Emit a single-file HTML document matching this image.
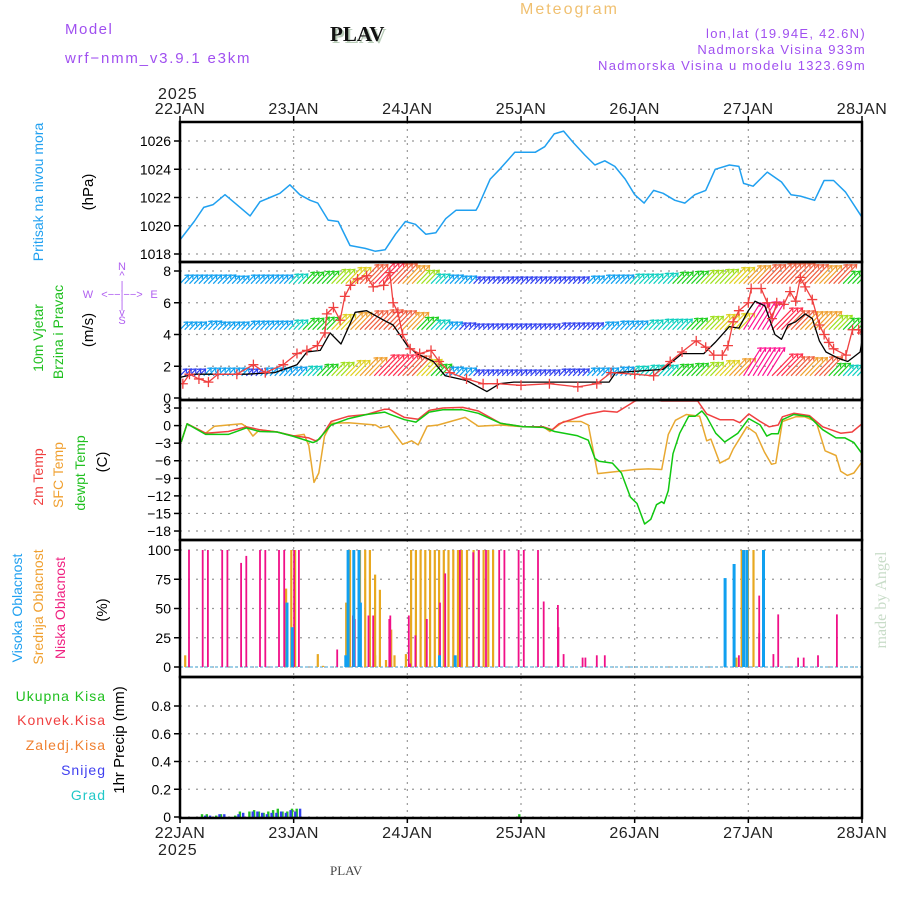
<!DOCTYPE html>
<html><head><meta charset="utf-8"><style>
body{margin:0;background:#fff}
svg{display:block}
text{font-family:"Liberation Sans",sans-serif}
text.serif{font-family:"Liberation Serif",serif}
</style></head><body>
<svg id="chart" width="900" height="900" viewBox="0 0 900 900" xmlns="http://www.w3.org/2000/svg">
<defs>
<clipPath id="cp1"><rect x="180" y="122" width="682" height="140"/></clipPath>
<clipPath id="cp2"><rect x="180" y="262" width="682" height="138"/></clipPath>
<clipPath id="cp3"><rect x="180" y="400" width="682" height="140"/></clipPath>
<clipPath id="cp4"><rect x="180" y="540" width="682" height="137"/></clipPath>
<clipPath id="cp5"><rect x="180" y="677" width="682" height="141"/></clipPath>
</defs>
<g>
<text x="65" y="34" font-size="15" fill="#a050f0" letter-spacing="1.5">Model</text>
<text x="65" y="63" font-size="15" fill="#a050f0" letter-spacing="1.8">wrf−nmm_v3.9.1 e3km</text>
<text class="serif" x="332" y="43" font-size="21" font-weight="bold" fill="#b8ccb8">PLAV</text>
<text class="serif" x="330" y="41" font-size="21" font-weight="bold" fill="#111">PLAV</text>
<text x="520" y="14" font-size="16" fill="#f0c070" letter-spacing="2">Meteogram</text>
<text x="866" y="38" font-size="13" fill="#a050f0" text-anchor="end" letter-spacing="1.3">lon,lat (19.94E, 42.6N)</text>
<text x="866" y="54" font-size="13" fill="#a050f0" text-anchor="end" letter-spacing="1.3">Nadmorska Visina 933m</text>
<text x="866" y="70" font-size="13" fill="#a050f0" text-anchor="end" letter-spacing="1.3">Nadmorska Visina u modelu 1323.69m</text>
<text x="158" y="99" font-size="16" fill="#222" letter-spacing="1">2025</text>
<text x="158" y="855" font-size="16" fill="#222" letter-spacing="1">2025</text>
<text class="serif" x="330" y="875" font-size="13" fill="#444">PLAV</text>
<text class="serif" transform="translate(886,600) rotate(-90)" font-size="16" fill="#c8dcc8" text-anchor="middle">made by Angel</text>
</g>
<g>
<text transform="translate(43,192) rotate(-90)" font-size="14" fill="#20a0f0" text-anchor="middle">Pritisak na nivou mora</text>
<text transform="translate(93,192) rotate(-90)" font-size="15" fill="#000" text-anchor="middle">(hPa)</text>
<text transform="translate(43,338) rotate(-90)" font-size="14" fill="#20c020" text-anchor="middle">10m Vjetar</text>
<text transform="translate(63,332) rotate(-90)" font-size="14" fill="#20c020" text-anchor="middle">Brzina i Pravac</text>
<text transform="translate(93,330) rotate(-90)" font-size="15" fill="#000" text-anchor="middle">(m/s)</text>
<g fill="#b060f0" font-size="11" text-anchor="middle">
<text x="122" y="270">N</text><text x="122" y="279">^</text><text x="122" y="289">|</text>
<text x="88" y="298">W</text><text x="122" y="298">&lt;−−|−−&gt;</text><text x="154" y="298">E</text>
<text x="122" y="308">|</text><text x="122" y="316">v</text><text x="122" y="324">S</text>
</g>
<text transform="translate(43,477) rotate(-90)" font-size="14" fill="#f04040" text-anchor="middle">2m Temp</text>
<text transform="translate(63,475) rotate(-90)" font-size="14" fill="#f0a030" text-anchor="middle">SFC Temp</text>
<text transform="translate(85,473) rotate(-90)" font-size="14" fill="#20c020" text-anchor="middle">dewpt Temp</text>
<text transform="translate(107,462) rotate(-90)" font-size="15" fill="#000" text-anchor="middle">(C)</text>
<text transform="translate(22,608) rotate(-90)" font-size="14" fill="#20a0f0" text-anchor="middle">Visoka Oblacnost</text>
<text transform="translate(43,607) rotate(-90)" font-size="14" fill="#f0a030" text-anchor="middle">Srednja Oblacnost</text>
<text transform="translate(65,608) rotate(-90)" font-size="14" fill="#f02080" text-anchor="middle">Niska Oblacnost</text>
<text transform="translate(107,610) rotate(-90)" font-size="15" fill="#000" text-anchor="middle">(%)</text>
<text x="106" y="701" font-size="14" fill="#20c020" text-anchor="end" letter-spacing="1">Ukupna Kisa</text>
<text x="106" y="725" font-size="14" fill="#f04040" text-anchor="end" letter-spacing="1">Konvek.Kisa</text>
<text x="106" y="750" font-size="14" fill="#f08030" text-anchor="end" letter-spacing="1">Zaledj.Kisa</text>
<text x="106" y="775" font-size="14" fill="#4040f0" text-anchor="end" letter-spacing="1">Snijeg</text>
<text x="106" y="800" font-size="14" fill="#20c8c8" text-anchor="end" letter-spacing="1">Grad</text>
<text transform="translate(124,740) rotate(-90)" font-size="15" fill="#000" text-anchor="middle">1hr Precip (mm)</text>
</g>
<g id="plot"></g>
</svg>
<script>
// ---------- DATA ----------
const dayLabels = ["22JAN","23JAN","24JAN","25JAN","26JAN","27JAN","28JAN"];
const pressHours = [0,3,5,7,9.5,12.7,14.8,16.9,19,21.1,23.2,25.3,27.5,29.1,31.3,33.4,35.9,39.1,41.2,43.3,45.5,47.6,49.7,51.9,54,56.1,58.3,62.5,63,65.5,67.5,70.7,75,77,79,81,83,85.5,87.6,89.7,91.8,94,96,98,100,102,104.5,106.6,108.7,111,113,116,118,119,121,124,127,129,131,134,136,138,140.5,144];
const pressVals = [1019,1020.3,1021.3,1021.5,1022.2,1021.3,1020.7,1021.7,1022,1022.3,1022.9,1022.2,1021.8,1021.6,1020.4,1020.3,1018.6,1018.4,1018.2,1018.3,1019.4,1020.3,1020.1,1019.4,1019.5,1020.5,1021.1,1021.1,1021.4,1023.3,1024,1025.2,1025.2,1025.6,1026.5,1026.7,1025.9,1025,1024.3,1024.6,1024.2,1023.3,1022.2,1021.6,1022.5,1022.3,1021.8,1021.6,1022.2,1022.5,1024,1024.3,1024.2,1023,1022.8,1023.8,1023.1,1022.2,1022.1,1021.8,1023.2,1023.2,1022.4,1020.6];
const pressTicks = [1018,1020,1022,1024,1026];

const windTicks = [0,2,4,6,8];
// 3-hourly wind speed for the three arrow rows (0..144 h)
const windTop = [2,2,2,2,1.5,2,2,2,2.5,3.5,4,5,6,7.5,8.5,8,7,4.5,2.5,2,1.5,1,1,1,1,1,1,1,1,1.5,2,2,2.5,2.5,3,3.5,4,4.5,5,6,7,7.5,8,8,7.5,7,7.5,4,4];
const windMid = [1.5,1.5,2,1.5,1.5,2,2,2,2.5,3.5,4,5.5,6.5,7.5,8,7.5,6.5,4,2.5,1.5,1,0.5,0.5,0.5,0.5,0.5,0.5,1,1,1,1.5,2,2,2.5,3,3,3.5,4.5,5.5,6,9.5,10,9,7.5,7,7,5,3.5,3.5];
const windBot = [1,1,1.5,1.5,1.5,1,1.5,1.5,2,2.5,3.5,4.5,5.5,7,8.5,8.5,8,6,3.5,2,1.5,0.5,0.5,0.5,0.5,0.5,0.5,1,1,1.5,1.5,2,2.5,3,3,3.5,4,4.5,5.5,6.5,10,10,9,7.5,7,7.5,4,3,3];
const rowLevels = [7.2,4.3,1.4];
const speedHours = [0,3,8,14,20,24.7,26.8,29.6,31.7,34,37,39.4,43,45,48,50,53.5,56,60.5,63,64.8,67.5,70.5,80,90.6,92,102,106,110.6,113,116,118,120,121.4,123.5,125.6,127,128.4,130,132,133.5,135,136.4,139,141,143.6,144];
const speedVals = [1.3,1.5,1.5,1.5,1.6,2.1,2.9,3,4.1,3.4,5.4,5.5,4.9,4.6,3.3,2.8,2.3,1.4,1.1,0.7,0.4,0.9,1,1,1,1.6,1.8,2.8,2.8,3.5,4.5,4.4,5.5,6.1,5.8,4,3.7,4.6,4.8,5.3,5,3.6,2.9,2.5,2.3,2.9,3.6];
const gustHours = [0.6,2,4,6,8,12,15.5,18,21.8,24.7,26.8,29,30.6,31,32.4,33.8,34.8,36,37.5,39.4,40.8,43,44.3,45,46,47,48.6,50.6,53,54.7,57,60.5,64,67,72,78,84,88,91,96,100,103.5,106,109,111,112.7,114.5,115.7,116.8,118,120,120.6,122.7,124,125,126,127.5,128.8,130,131,132,133.5,135,136,137,138,140.6,142,143.3,144];
const gustVals = [0.9,1.5,1.2,1.0,1.5,1.5,2.1,1.6,2.1,2.8,3.0,3.3,4.1,5.3,5.7,4.9,6.4,7.1,7.5,7.7,7.0,7.1,7.9,6.0,5.4,4.0,3.1,2.8,3.0,2.3,1.6,1.2,0.9,0.9,0.8,0.9,0.7,0.9,1.6,1.5,1.4,2.3,2.9,3.6,3.2,2.7,2.7,3.3,4.8,5.5,6.0,6.9,6.9,6.0,5.0,6.0,5.9,6.7,6.1,7.6,7.0,6.2,4.6,4.0,3.5,3.1,2.7,4.3,4.3,4.1];

const tempTicks = [3,0,-3,-6,-9,-12,-15,-18];
const t2Hours = [0.25,1.5,5.4,10.2,14,16.8,20.5,23.8,27.2,28.6,29.5,31.9,35.6,39.4,43.2,44.1,47.4,50.3,52.6,55.5,59.7,63,67.7,72.5,76.7,78.6,80,85.7,89.5,92.3,96.1,98,101.7,109.3,111.2,114,116.8,118.2,120.1,122.5,124.4,126.3,127.2,129.6,132.9,135.7,139.5,141.9,144];
const t2Vals = [-2.8,0.3,-1.3,-1.0,-0.2,-0.7,-1.1,-1.7,-2.1,-2.6,-2.3,0.7,1.6,1.9,2.8,2.8,1.4,1.1,2.6,3.0,3.1,2.5,0.4,-0.2,-0.2,-0.7,0.3,1.9,2.5,2.3,4.2,4.7,4.2,4.2,2.0,1.0,1.0,0.5,2.0,0.7,-0.2,0.1,1.5,2.1,1.7,-0.2,-1.3,-1.1,0.3];
const tdHours = [0.25,1.5,5.4,10.2,14,16.8,20.5,23.8,28.1,29,31.9,35.6,39.4,43.2,44.1,47.4,49.8,52.6,55.5,59.7,63,67.7,72.5,76.7,79.1,83.8,86.2,87.6,88.5,91.3,93.2,95.1,96.5,98.1,99.4,100.6,101.7,102.2,103.1,104.1,105.5,107.4,108.8,110.2,111.2,113.1,115,117.8,120.1,122.5,123.9,124.9,126.3,127.2,129.6,132.9,135.7,138.5,140.4,142.3,144];
const tdVals = [-2.8,0.3,-1.5,-1.5,-0.4,-1.0,-1.1,-1.8,-2.9,-2.6,0.1,1.2,1.9,2.3,2.0,1.0,0.6,2.3,2.7,2.7,2.1,0.4,-0.2,-0.3,-1.0,-1.7,-2.5,-5.6,-6.1,-6.4,-8.1,-12.2,-13.3,-16.8,-16.0,-13.5,-13.0,-13.3,-11.1,-4.8,-1.3,1.6,1.6,2.5,1.5,-1.3,-2.8,-1.3,1.2,0.1,-1.8,-1.4,-1.4,1.0,1.9,1.5,-0.7,-2.1,-2.1,-2.9,-4.8];
const tsHours = [0.25,1.5,5.4,7.3,13,14,15.4,16.8,20.5,23.8,26.2,27.2,28.3,29.3,30.5,31.9,35.6,41.3,42.3,44.1,47,48.9,50.3,52.2,54.5,60.2,63,67.7,72.5,76.7,78.1,81,84.7,86.2,88.2,96.1,98.9,101.7,103.1,104.6,106.9,109.7,111.2,112.1,114,115.9,116.8,119.7,121.6,123.4,124.9,125.8,127.2,130,131.9,134.3,136.2,138.5,139.5,140.9,142.3,144];
const tsVals = [-2.8,0.3,-1.3,-0.1,0.3,-0.2,-1.8,-0.7,-1.1,-1.8,-1.5,-3.4,-9.7,-8.1,-1.8,0.4,0.5,0.1,-0.4,-0.1,-3.2,-2.6,-3.3,-0.1,0.1,1.4,-0.1,0.1,-0.2,-0.2,-1.0,0.7,0.7,0.1,-8.2,-7.5,-7.4,-7.5,-1.5,0.9,1.9,1.6,-2.6,-2.3,-6.4,-5.6,-4.0,-0.2,-1.3,-4.5,-6.6,-6.4,0.7,1.5,1.5,0.7,-4.3,-5.1,-7.8,-8.5,-8.1,-6.2];

const cloudTicks = [0,25,50,75,100];
const lowHours = [1.9,4.8,5.9,8.9,10,12.9,14,16.9,18,20.9,22,24.1,25.1,33.2,36.5,36.9,39.8,40.8,44.2,44.4,48.3,48.6,49.7,52.1,54.9,56,59.1,61.9,63.1,64.6,67.4,68.5,71.5,72.6,75.6,76.8,79.8,79.9,81,85,85.6,88,89.7,118,119.1,122.3,122.3,125.3,126.3,130.5,131.7,134.7,138.7];
const lowVals = [100,100,100,100,100,89,95,100,100,100,100,100,100,15,44,41,44,44,41,44,44,3,27,41,55,80,100,98,100,100,100,100,100,100,100,56,53,34,11,8,8,10,10,10,37,29,61,11,45,8,8,10,45];
const midHours = [1.1,22.4,23.5,24.3,29.1,30.2,35.1,35.9,38,39.1,40.1,41.2,41.2,42.2,43.5,44.6,45.3,47.7,48.8,49.8,50.8,51.8,52.8,53.8,54.7,55.7,56.7,57.7,58.7,59.5,60.6,62,63.1,64.1,65.1,66.1,117.5,118.6,119.9,121.1];
const midVals = [10,67,100,100,11,1,55,100,100,100,100,79,10,66,6,32,10,11,100,100,100,100,100,100,100,100,100,100,100,100,100,100,100,100,100,100,8,100,100,100];
const highHours = [22.6,23.7,35,35.5,36.7,37.8,38.1,54.8,58.1,115.1,117,119,119.7,123.2];
const highVals = [55,34,10,100,100,100,55,10,10,76,88,100,100,100];

const precipTicks = [0,0.2,0.4,0.6,0.8];
const precipHours = [5,6,8,9,12,13,15,16,17,18,19,20,21,22,23,24,25,72];
const precipTotal = [0.02,0.02,0.01,0.02,0.01,0.04,0.04,0.05,0.04,0.03,0.04,0.05,0.06,0.04,0.04,0.06,0.06,0.02];
const precipSnow = [0.01,0.01,0.02,0.02,0.02,0.03,0.04,0.04,0.03,0.02,0.03,0.03,0.04,0.03,0.05,0.04,0.06,0];

// ---------- SCALES ----------
const X0=180,X1=862;
const X = h => X0 + h*(X1-X0)/144;
const yP = v => 254 - (v-1018)*14.125;
const yW = v => 398 - v*15.875;
const yT = v => 425.6 - v*5.857;
const yC = v => 667 - v*1.17;
const yR = v => 817 - v*138.75;
const NS='http://www.w3.org/2000/svg';
const plot=document.getElementById('plot');
function mk(tag,attrs,parent){const e=document.createElementNS(NS,tag);for(const k in attrs)e.setAttribute(k,attrs[k]);(parent||plot).appendChild(e);return e;}

const panels=[
 {name:'pressure',top:122,bot:262,ticks:pressTicks,y:yP,cp:'cp1'},
 {name:'wind',top:262,bot:400,ticks:windTicks,y:yW,cp:'cp2'},
 {name:'temperature',top:400,bot:540,ticks:tempTicks,y:yT,cp:'cp3'},
 {name:'cloud',top:540,bot:677,ticks:cloudTicks,y:yC,cp:'cp4'},
 {name:'precip',top:677,bot:818,ticks:precipTicks,y:yR,cp:'cp5'}
];
panels.forEach(p=>{
 const g=mk('g',{});
 
 
 p.ticks.forEach(t=>{
  const yy=p.y(t);
  const gl=mk('line',{x1:X0,x2:X1,y1:yy,y2:yy,stroke:'#999','stroke-width':1.2,'stroke-dasharray':'2,6'},g);
  
  
  mk('line',{x1:X0-6,x2:X0,y1:yy,y2:yy,stroke:'#000','stroke-width':1.5},g);
  const tx=mk('text',{x:X0-9,y:yy+5,'font-size':14,'text-anchor':'end',fill:'#000'},g);
  
  
  tx.textContent=String(t).replace('-','−');
 });
 for(let d=1;d<6;d++){
  const xx=X(d*24);
  const vl=mk('line',{x1:xx,x2:xx,y1:p.top,y2:p.bot,stroke:'#999','stroke-width':1.2,'stroke-dasharray':'2,5'},g);
  
  
 }
});
dayLabels.forEach((d,i)=>{
 const xx=X(i*24);
 const t1=mk('text',{x:xx,y:114,'font-size':16,'text-anchor':'middle',fill:'#222','letter-spacing':'0.5'});
 
 
 t1.textContent=d;
 const t2=mk('text',{x:xx,y:838,'font-size':16,'text-anchor':'middle',fill:'#222','letter-spacing':'0.5'});
 
 
 t2.textContent=d;
 mk('line',{x1:xx,x2:xx,y1:116,y2:122,stroke:'#000','stroke-width':1.5});
 mk('line',{x1:xx,x2:xx,y1:818,y2:823,stroke:'#000','stroke-width':1.5});
});
function line(hs,vs,yf,color,cp,name,w){
 const d=hs.map((h,i)=>(i?'L':'M')+X(h).toFixed(1)+','+yf(vs[i]).toFixed(1)).join('');
 const p=mk('path',{d:d,fill:'none',stroke:color,'stroke-width':w||1.5,'clip-path':'url(#'+cp+')','stroke-linejoin':'round'});
 
 
 return p;
}
line(pressHours,pressVals,yP,'#20a0f0','cp1','pressure-line');
function windColor(s){
 const c=['#8010f0','#3040f0','#10a0f0','#10d0c0','#20d020','#a0e020','#e0d020','#f0a030','#f06040','#ff3050','#ff1090'];
 return c[Math.max(0,Math.min(10,Math.round(s)))];
}
const windG=mk('g',{'clip-path':'url(#cp2)'});


[windTop,windMid,windBot].forEach((row,r)=>{
 row.forEach((s,i)=>{
  [-1,0,1].forEach(o=>{
   const h=i*3+o; if(h<0||h>144) return;
   const x0=X(h), y0=yW(rowLevels[r]);
   const L=7+s*2.6, a=(s>=9.5?58:46)*Math.PI/180;
   const x1=x0+L*Math.cos(a), y1=y0-L*Math.sin(a);
   const col=windColor(s);
   const ar=mk('path',{d:`M${x0.toFixed(1)},${y0.toFixed(1)}L${x1.toFixed(1)},${y1.toFixed(1)}M${(x1-4).toFixed(1)},${(y1+0.5).toFixed(1)}L${x1.toFixed(1)},${y1.toFixed(1)}L${(x1-0.5).toFixed(1)},${(y1+4).toFixed(1)}`,stroke:col,'stroke-width':1.2,fill:'none'},windG);
   
   
  });
 });
});
line(speedHours,speedVals,yW,'#000','cp2','wind-speed-line',1.3);
line(gustHours,gustVals,yW,'#f04040','cp2','wind-gust-line',1.3);
const gm=mk('g',{'clip-path':'url(#cp2)',stroke:'#f04040','stroke-width':1.3});


gustHours.forEach((h,i)=>{
 const x=X(h),y=yW(gustVals[i]);
 const m=mk('path',{d:`M${x-5},${y}h10M${x},${y-5}v10`},gm);
 
 
});
line(tsHours,tsVals,yT,'#e8a830','cp3','sfc-temp-line');
line(t2Hours,t2Vals,yT,'#f04040','cp3','temp-2m-line');
line(tdHours,tdVals,yT,'#10c810','cp3','dewpoint-line');
const cg=mk('g',{'clip-path':'url(#cp4)'});


const base=mk('line',{x1:X0,x2:X1,y1:667,y2:667,stroke:'#80c0e0','stroke-width':1.5,'stroke-dasharray':'3,2'},cg);


function bars(hs,vs,yf,color,w,g,name,zero){
 hs.forEach((h,i)=>{
  const x=X(h), y=yf(vs[i]);
  const b=mk('rect',{x:(x-w/2).toFixed(1),y:y.toFixed(1),width:w,height:Math.max(0,zero-y).toFixed(1),fill:color},g);
  
  
 });
}
bars(midHours,midVals,yC,'#e8a820',2.2,cg,'mid-cloud-bar',667);
bars(lowHours,lowVals,yC,'#f01088',1.8,cg,'low-cloud-bar',667);
bars(highHours,highVals,yC,'#10a0f0',3,cg,'high-cloud-bar',667);
const pg=mk('g',{'clip-path':'url(#cp5)'});


bars(precipHours.map(h=>h-0.35),precipTotal,yR,'#20c020',2.4,pg,'precip-total-bar',817);
bars(precipHours.map(h=>h+0.35),precipSnow,yR,'#3040f0',2.4,pg,'precip-snow-bar',817);
panels.forEach(p=>{
 const f=mk('rect',{x:X0,y:p.top,width:X1-X0,height:p.bot-p.top,fill:'none',stroke:'#000','stroke-width':2.5});
 
 
});
</script>
</body></html>
